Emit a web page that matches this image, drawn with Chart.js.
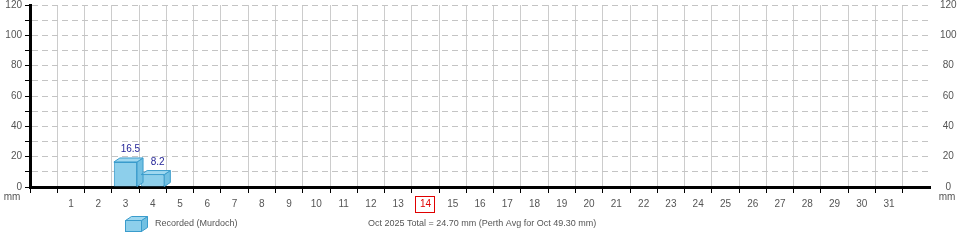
<!DOCTYPE html>
<html>
<head>
<meta charset="utf-8">
<title>Murdoch rainfall - Oct 2025</title>
<script src="https://cdn.jsdelivr.net/npm/chart.js@4.4.0/dist/chart.umd.min.js"></script>
<style>
  html, body { margin: 0; padding: 0; background: #fff; }
  #wrap { width: 960px; height: 240px; }
</style>
</head>
<body>
<div id="wrap"><canvas id="rainChart" width="960" height="240"></canvas></div>
<script>
'use strict';

// --- data ---
const DAYS = ['', '1', '2', '3', '4', '5', '6', '7', '8', '9', '10', '11', '12', '13', '14', '15', '16',
              '17', '18', '19', '20', '21', '22', '23', '24', '25', '26', '27', '28', '29', '30', '31', ''];
// mm per day, null = not yet recorded
const RAINFALL = [null, 0, 0, 16.5, 8.2, 0, 0, 0, 0, 0, 0, 0, 0, 0, null, null, null,
                  null, null, null, null, null, null, null, null, null, null, null, null, null, null, null, null];
const Y_MIN = 0;
const Y_MAX = 120;
const Y_STEP = 10;       // minor ticks / dashed lines
const Y_LABEL_STEP = 20; // labelled ticks
const TODAY = '14';
const SERIES_LABEL = 'Recorded (Murdoch)';
const MONTH_LABEL = 'Oct 2025';
const PERTH_AVG = 49.3;

// --- look ---
const FONT = '"Liberation Sans", Arial, Helvetica, sans-serif';
const TEXT_GREY = '#555';
const BAR = { front: '#8dcfeb', top: '#9fd8f0', side: '#72c0e2', edge: '#3a9ccc' };
const DEPTH = { dx: 6, dy: -4 };

Chart.defaults.font.family = FONT;
Chart.defaults.color = TEXT_GREY;

function drawBox(ctx, x0, x1, y0, base) {
    const { dx, dy } = DEPTH;
    ctx.save();
    ctx.lineWidth = 1;
    ctx.strokeStyle = BAR.edge;
    ctx.lineJoin = 'round';
    // side
    ctx.beginPath();
    ctx.moveTo(x1, y0); ctx.lineTo(x1 + dx, y0 + dy); ctx.lineTo(x1 + dx, base + dy); ctx.lineTo(x1, base);
    ctx.closePath();
    ctx.fillStyle = BAR.side; ctx.fill(); ctx.stroke();
    // top
    ctx.beginPath();
    ctx.moveTo(x0, y0); ctx.lineTo(x0 + dx, y0 + dy); ctx.lineTo(x1 + dx, y0 + dy); ctx.lineTo(x1, y0);
    ctx.closePath();
    ctx.fillStyle = BAR.top; ctx.fill(); ctx.stroke();
    ctx.restore();
}

// 3D top/side faces + value labels on the bars chart.js already drew
const bar3d = {
    id: 'bar3d',
    afterDatasetsDraw(chart) {
        const ctx = chart.ctx;
        const meta = chart.getDatasetMeta(0);
        meta.data.forEach((el, i) => {
            const v = RAINFALL[i];
            if (!v) return;
            const { x, y, base, width } = el.getProps(['x', 'y', 'base', 'width'], true);
            const x0 = x - width / 2, x1 = x + width / 2;
            drawBox(ctx, x0, x1, y, base);
            ctx.save();
            ctx.font = '10px ' + FONT;
            ctx.fillStyle = '#1f1f96';
            ctx.textAlign = 'center';
            ctx.textBaseline = 'alphabetic';
            ctx.fillText(String(v), x + DEPTH.dx / 2 + 2, y + DEPTH.dy - 6);
            ctx.restore();
        });
    }
};

// today marker, "mm" units and the bottom legend line
const extras = {
    id: 'extras',
    afterDraw(chart) {
        const ctx = chart.ctx;
        const xs = chart.scales.x, yl = chart.scales.y, yr = chart.scales.y2;
        const base = yl.getPixelForValue(0);

        const tx = xs.getPixelForValue(DAYS.indexOf(TODAY));
        ctx.save();
        ctx.strokeStyle = '#e00000';
        ctx.lineWidth = 1;
        ctx.strokeRect(Math.round(tx) - 9.5, xs.top + 9.5, 19, 16);

        ctx.font = '10px ' + FONT;
        ctx.fillStyle = TEXT_GREY;
        ctx.textAlign = 'center';
        ctx.textBaseline = 'middle';
        ctx.fillText('mm', 12, base + 10);
        ctx.fillText('mm', yr.left + 17, base + 10);

        // legend
        const ly = 224;
        ctx.fillStyle = BAR.front;
        ctx.strokeStyle = BAR.edge;
        ctx.fillRect(125.5, ly - 3.5, 16, 11);
        ctx.strokeRect(125.5, ly - 3.5, 16, 11);
        drawBox(ctx, 125.5, 141.5, ly - 3.5, ly + 7.5);
        ctx.font = '9px ' + FONT;
        ctx.fillStyle = TEXT_GREY;
        ctx.textAlign = 'left';
        ctx.fillText(SERIES_LABEL, 155, ly);

        const total = RAINFALL.reduce((s, v) => s + (v || 0), 0);
        ctx.fillText(`${MONTH_LABEL} Total = ${total.toFixed(2)} mm (Perth Avg for Oct ${PERTH_AVG.toFixed(2)} mm)`, 368, ly);
        ctx.restore();
    }
};

const yTicks = {
    min: Y_MIN, max: Y_MAX,
    ticks: { stepSize: Y_STEP, autoSkip: false, font: { size: 10 }, color: TEXT_GREY,
             callback: (v) => (v % Y_LABEL_STEP === 0 ? String(v) : '') }
};

function noVerticalPad(s) {
    s.width = 30;
    s.paddingTop = 0;
    s.paddingBottom = 0;
}

new Chart(document.getElementById('rainChart'), {
    type: 'bar',
    data: {
        labels: DAYS,
        datasets: [{
            label: SERIES_LABEL,
            data: RAINFALL,
            backgroundColor: BAR.front,
            borderColor: BAR.edge,
            borderWidth: 1,
            borderSkipped: false,
            categoryPercentage: 1,
            barPercentage: 0.85
        }]
    },
    options: {
        responsive: false,
        animation: false,
        events: [],
        layout: { padding: { top: 5, right: 0, bottom: 0, left: 0 } },
        plugins: { legend: { display: false }, tooltip: { enabled: false } },
        scales: {
            x: {
                grid: {
                    offset: true,
                    color: (c) => (c.tick ? '#cccccc' : 'rgba(0,0,0,0)'),
                    tickColor: (c) => (c.tick ? '#000' : 'rgba(0,0,0,0)'),
                    tickLength: 6
                },
                border: { color: '#000', width: 3 },
                ticks: {
                    autoSkip: false, maxRotation: 0, padding: 5,
                    font: { size: 10 },
                    color: (c) => (DAYS[c.index] === TODAY ? '#e00000' : TEXT_GREY)
                },
                afterFit(s) { s.height = 53; s.paddingLeft = 0; s.paddingRight = 0; }
            },
            y: {
                ...yTicks,
                position: 'left',
                ticks: { ...yTicks.ticks, padding: 3 },
                grid: { color: '#c4c4c4', tickColor: '#000', tickLength: 5 },
                border: { color: '#000', width: 3, dash: [6, 4] },
                afterFit: noVerticalPad
            },
            y2: {
                ...yTicks,
                position: 'right',
                ticks: { ...yTicks.ticks, padding: 2, crossAlign: 'center' },
                grid: { display: false, drawOnChartArea: false },
                border: { display: false },
                afterFit: noVerticalPad
            }
        }
    },
    plugins: [bar3d, extras]
});
</script>
</body>
</html>
